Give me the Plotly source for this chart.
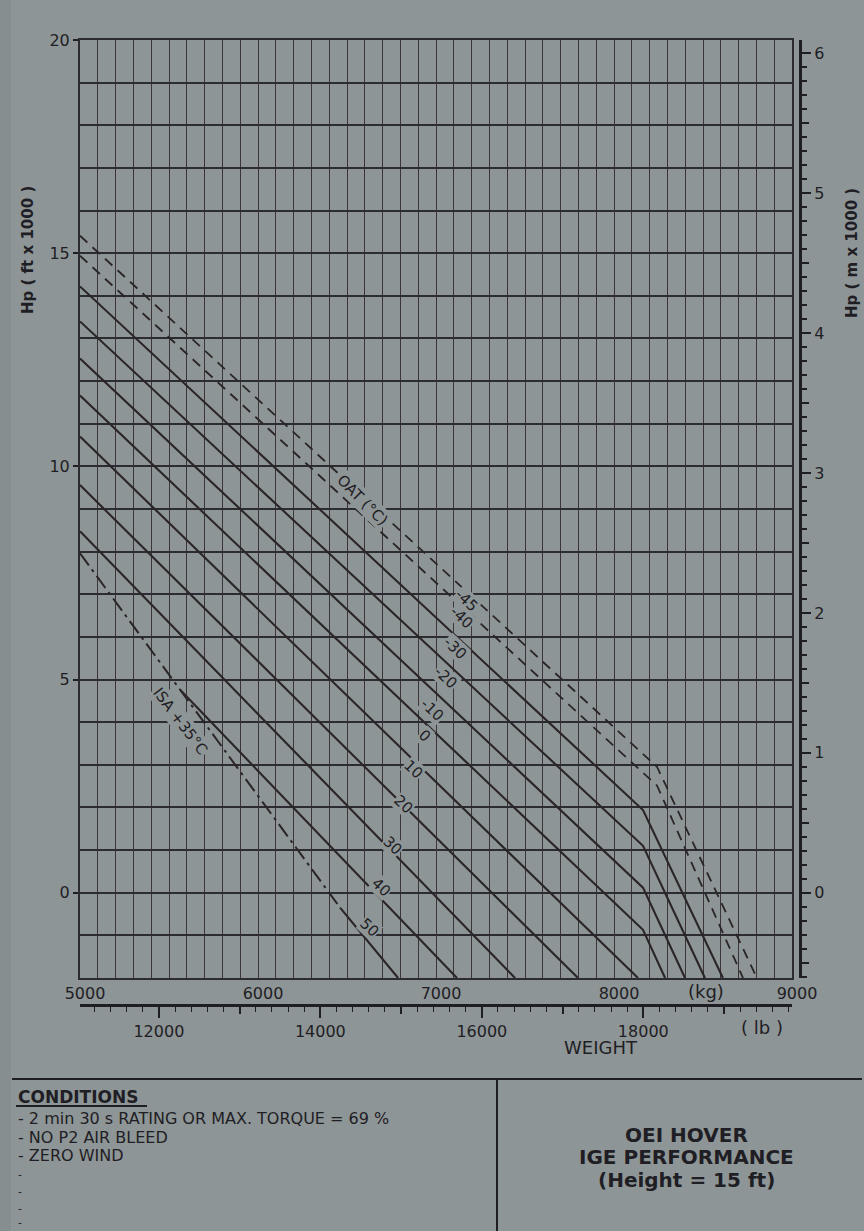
import plotly.graph_objects as go

# ---------------------------------------------------------------
# OEI hover IGE performance: pressure altitude vs. weight per OAT
# ---------------------------------------------------------------

# OAT curves (deg C); altitude in ft x 1000, weight in kg
oat_c = [-45, -40, -30, -20, -10, 0, 10, 20, 30, 40, 50]
oat_text = ["-45", "-40", "-30", "-20", "-10", "0", "10", "20", "30", "40", "50"]
start_kg = [5000, 5000, 5000, 5000, 5000, 5000, 5000, 5000, 5000, 5565, 6461]
start_kft = [15.41, 14.94, 14.22, 13.40, 12.53, 11.66, 10.70, 9.56, 8.48, 4.75, -0.35]
knee_kg = [8242, 8242, 8163, 8163, 8163, 8163, None, None, None, None, None]
knee_kft = [2.95, 2.51, 1.94, 1.10, 0.12, -0.87, None, None, None, None, None]
end_kg = [8803, 8725, 8612, 8511, 8399, 8287, 8135, 7798, 7444, 7118, 6787]
end_kft = [-2.0, -2.0, -2.0, -2.0, -2.0, -2.0, -2.0, -2.0, -2.0, -2.0, -2.0]
dashed = [True, True, False, False, False, False, False, False, False, False, False]

# where each OAT value is written along its curve
label_kg = [7174, 7146, 7107, 7056, 6978, 6938, 6871, 6815, 6758, 6691, 6629]
label_kft = [6.84, 6.44, 5.74, 5.03, 4.29, 3.68, 2.90, 2.08, 1.10, 0.14, -0.82]

# ISA +35 deg C limit line
isa_kg = [5000, 6461]
isa_kft = [7.96, -0.35]

# axes
kg_range = [5000, 9000]
kft_range = [-2, 20]
kg_ticks = [5000, 6000, 7000, 8000, 9000]
kft_ticks = [0, 5, 10, 15, 20]
FT_TO_M = 0.3048
KG_TO_LB = 2.20462

# page geometry (px)
W, H = 864, 1231
L, RE, T, BE = 80, 800, 40, 1005
PLOT_R, PLOT_B = 792, 978

PAPER = "#8e9596"
EDGE = "#878e8f"
INK = "#1f1e24"
GRID_V = "#3b3438"
GRID_H = "#2c2b31"
FONT = "DejaVu Sans"


def fx(xp):
    return (xp - L) / (RE - L)


def fy(yp):
    return (BE - yp) / (BE - T)


fig = go.Figure()

# OAT curves
for i, t in enumerate(oat_c):
    xs = [start_kg[i]]
    ys = [start_kft[i]]
    if knee_kg[i] is not None:
        xs.append(knee_kg[i])
        ys.append(knee_kft[i])
    xs.append(end_kg[i])
    ys.append(end_kft[i])
    fig.add_trace(go.Scatter(
        x=xs, y=ys, mode="lines",
        line=dict(color="#2a2527", width=1.8 if dashed[i] else 2.1,
                  dash="10px,7px" if dashed[i] else "solid"),
        hoverinfo="skip", showlegend=False, name=f"{t} °C"))

# ISA +35 line
fig.add_trace(go.Scatter(
    x=isa_kg, y=isa_kft, mode="lines",
    line=dict(color="#2a2527", width=2.0, dash="15px,5px,3px,5px"),
    hoverinfo="skip", showlegend=False, name="ISA +35°C"))

# carriers for the secondary scales
fig.add_trace(go.Scatter(x=[None], y=[None], xaxis="x", yaxis="y2", showlegend=False, hoverinfo="skip"))
fig.add_trace(go.Scatter(x=[None], y=[None], xaxis="x", yaxis="y3", showlegend=False, hoverinfo="skip"))
fig.add_trace(go.Scatter(x=[None], y=[None], xaxis="x2", yaxis="y", showlegend=False, hoverinfo="skip"))
fig.add_trace(go.Scatter(x=[None], y=[None], xaxis="x3", yaxis="y", showlegend=False, hoverinfo="skip"))

x_dom = [0, fx(PLOT_R)]
y_dom = [fy(PLOT_B), 1]
tickfont = dict(family=FONT, size=16, color=INK)

fig.update_layout(
    width=W, height=H,
    margin=dict(l=L, r=W - RE, t=T, b=H - BE),
    paper_bgcolor=PAPER, plot_bgcolor=PAPER,
    showlegend=False,
    xaxis=dict(
        domain=x_dom, range=kg_range, anchor="y",
        tickmode="array", tickvals=kg_ticks, ticks="",
        tickfont=tickfont, ticklabelshift=5,
        showgrid=True, gridcolor=GRID_V, gridwidth=1.4,
        minor=dict(dtick=100, tick0=5000, showgrid=True, gridcolor=GRID_V, gridwidth=1.4),
        showline=True, mirror=True, linecolor=GRID_H, linewidth=2,
        zeroline=False, fixedrange=True,
    ),
    yaxis=dict(
        domain=y_dom, range=kft_range, anchor="x",
        tickmode="array", tickvals=kft_ticks, ticks="outside", ticklen=5,
        tickwidth=1.5, tickcolor=INK, tickfont=tickfont,
        showgrid=True, gridcolor=GRID_H, gridwidth=1.8,
        minor=dict(dtick=1, tick0=0, showgrid=True, gridcolor=GRID_H, gridwidth=1.8),
        showline=True, mirror=True, linecolor=GRID_H, linewidth=2,
        zeroline=False, fixedrange=True,
    ),
    yaxis2=dict(
        overlaying="y", anchor="free", position=1, side="right",
        domain=y_dom, range=[v * FT_TO_M for v in kft_range],
        tickmode="linear", tick0=0, dtick=1,
        ticks="outside", ticklen=9, tickwidth=2, tickcolor=INK,
        tickfont=tickfont,
        minor=dict(dtick=0.1, tick0=0, ticks="outside", ticklen=5, tickwidth=1.5, tickcolor=INK),
        showline=True, linecolor=INK, linewidth=3,
        showgrid=False, zeroline=False, fixedrange=True,
    ),
    yaxis3=dict(
        overlaying="y", anchor="free", position=1, side="right",
        domain=y_dom, range=[v * FT_TO_M for v in kft_range],
        tickmode="linear", tick0=0, dtick=0.5,
        ticks="outside", ticklen=8, tickwidth=1.8, tickcolor=INK,
        showticklabels=False, showline=False,
        showgrid=False, zeroline=False, fixedrange=True,
    ),
    xaxis2=dict(
        overlaying="x", anchor="free", position=0, side="bottom",
        domain=x_dom, range=[v * KG_TO_LB for v in kg_range],
        tickmode="linear", tick0=0, dtick=2000, tickformat="d",
        ticks="outside", ticklen=11, tickwidth=2, tickcolor=INK,
        tickfont=tickfont,
        minor=dict(dtick=200, tick0=0, ticks="outside", ticklen=5, tickwidth=1.4, tickcolor=INK),
        showline=True, linecolor=INK, linewidth=2.5,
        showgrid=False, zeroline=False, fixedrange=True,
    ),
    xaxis3=dict(
        overlaying="x", anchor="free", position=0, side="bottom",
        domain=x_dom, range=[v * KG_TO_LB for v in kg_range],
        tickmode="linear", tick0=0, dtick=1000,
        ticks="outside", ticklen=8, tickwidth=1.8, tickcolor=INK,
        showticklabels=False, showline=False,
        showgrid=False, zeroline=False, fixedrange=True,
    ),
)

annotations = []

# OAT values written on the curves
for i, t in enumerate(oat_text):
    annotations.append(dict(
        x=label_kg[i], y=label_kft[i], xref="x", yref="y",
        text=t, showarrow=False, textangle=43,
        font=dict(family=FONT, size=15, color=INK),
        bgcolor=PAPER, borderpad=0))

annotations.append(dict(
    x=6584, y=9.20, xref="x", yref="y", text="OAT (°C)", showarrow=False,
    textangle=45, font=dict(family=FONT, size=15, color=INK),
    bgcolor=PAPER, borderpad=1))
annotations.append(dict(
    x=5562, y=4.03, xref="x", yref="y", text="ISA +35°C", showarrow=False,
    textangle=53, font=dict(family=FONT, size=15, color=INK),
    bgcolor=PAPER, borderpad=1))


def page_text(xp, yp, text, size=14, bold=False, xanchor="center", angle=0):
    annotations.append(dict(
        x=fx(xp), y=fy(yp), xref="paper", yref="paper",
        text=f"<b>{text}</b>" if bold else text, showarrow=False,
        xanchor=xanchor, yanchor="middle", textangle=angle,
        font=dict(family=FONT, size=size, color=INK)))


# axis titles and unit marks
page_text(28, 250, "Hp ( ft x 1000 )", size=15, bold=True, angle=-90)
page_text(852, 253, "Hp ( m x 1000 )", size=15, bold=True, angle=-90)
page_text(706, 991, "(kg)", size=18)
page_text(762, 1027, "( lb )", size=18)
page_text(601, 1047, "WEIGHT", size=18)

# conditions block
page_text(16, 1097, "CONDITIONS", size=17, bold=True, xanchor="left")
conditions = [
    "- 2 min 30 s RATING OR MAX. TORQUE = 69 %",
    "- NO P2 AIR BLEED",
    "- ZERO WIND",
]
cond_y = [1118, 1137, 1155]
for txt, yy in zip(conditions, cond_y):
    page_text(16, yy, txt, size=16, xanchor="left")

# blank entries of the conditions list
blank_y = [1174, 1191, 1208, 1222]
for yy in blank_y:
    page_text(16, yy, "-", size=11, xanchor="left")

# chart title
title_lines = ["OEI HOVER", "IGE PERFORMANCE", "(Height = 15 ft)"]
title_y = [1135, 1157, 1180]
for txt, yy in zip(title_lines, title_y):
    page_text(686, yy, txt, size=20, bold=True)

fig.update_layout(annotations=annotations)

# page edge strip and frame lines of the caption area
shapes = [
    dict(type="rect", xref="paper", yref="paper",
         x0=fx(0), x1=fx(11), y0=fy(1231), y1=fy(0),
         fillcolor=EDGE, line=dict(width=0), layer="below"),
    dict(type="line", xref="paper", yref="paper",
         x0=fx(12), x1=fx(862), y0=fy(1079), y1=fy(1079),
         line=dict(color=INK, width=2)),
    dict(type="line", xref="paper", yref="paper",
         x0=fx(497), x1=fx(497), y0=fy(1080), y1=fy(1231),
         line=dict(color=INK, width=2)),
    dict(type="line", xref="paper", yref="paper",
         x0=fx(16), x1=fx(147), y0=fy(1106), y1=fy(1106),
         line=dict(color=INK, width=2)),
]
fig.update_layout(shapes=shapes)

fig.write_html("out.html")
